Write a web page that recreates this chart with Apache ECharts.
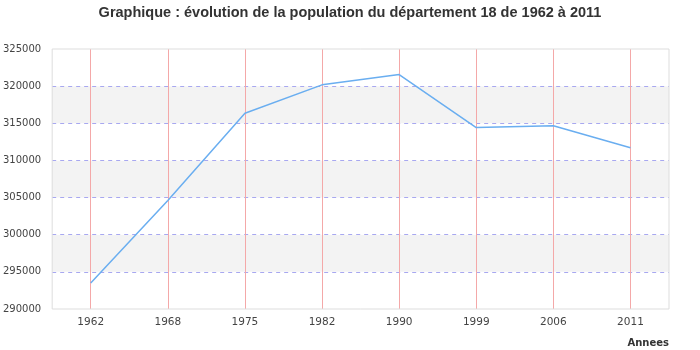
<!DOCTYPE html>
<html>
<head>
<meta charset="utf-8">
<script src="https://cdn.jsdelivr.net/npm/echarts@6/dist/echarts.min.js"></script>
<style>
  html, body { margin: 0; padding: 0; background: #fff; }
</style>
</head>
<body>
<div id="chart" style="width: 700px; height: 350px"></div>
<script>
const years = ['1962', '1968', '1975', '1982', '1990', '1999', '2006', '2011']
const population = [293514, 304601, 316350, 320174, 321559, 314428, 314675, 311694]
const yMin = 290000
const yMax = 325000
const yStep = 5000

const chart = echarts.init(document.getElementById('chart'))

const option = {
  animation: false,
  title: [
    {
      text: 'Graphique : évolution de la population du département 18 de 1962 à 2011',
      left: 'center',
      top: 5,
      padding: 0,
      textStyle: {
        fontFamily: 'Liberation Sans',
        fontSize: 14.5,
        fontWeight: 'bold',
        color: '#333'
      }
    },
    {
      text: 'Annees',
      right: 31,
      bottom: 2,
      padding: 0,
      textStyle: {
        fontFamily: 'DejaVu Sans',
        fontSize: 10,
        fontWeight: 'bold',
        color: '#333'
      }
    }
  ],
  grid: {
    left: 51,
    right: 31,
    top: 49,
    bottom: 41,
    show: true,
    z: 1,
    borderColor: '#ddd',
    borderWidth: 1
  },
  xAxis: {
    type: 'category',
    data: years,
    boundaryGap: true,
    axisLine: { show: false },
    axisTick: { show: false },
    axisLabel: {
      margin: 8,
      fontFamily: 'DejaVu Sans',
      fontSize: 10.5,
      color: '#444'
    },
    splitLine: {
      show: true,
      alignWithLabel: true,
      lineStyle: { color: '#f4a8a8', width: 1 }
    }
  },
  yAxis: {
    type: 'value',
    min: yMin,
    max: yMax,
    interval: yStep,
    axisLine: { show: false },
    axisTick: { show: false },
    axisLabel: {
      margin: 11,
      fontFamily: 'DejaVu Sans',
      fontSize: 10,
      color: '#444',
      formatter: v => String(v)
    },
    splitLine: {
      show: true,
      showMinLine: false,
      showMaxLine: false,
      lineStyle: { color: '#a8a8f0', type: [4, 4], width: 1 }
    },
    splitArea: {
      show: true,
      areaStyle: { color: ['#ffffff', '#f3f3f3'] }
    }
  },
  series: [
    {
      type: 'line',
      data: population,
      symbol: 'none',
      z: 3,
      lineStyle: { color: '#6aaef0', width: 1.5 }
    }
  ]
}

chart.setOption(option)
</script>
</body>
</html>
